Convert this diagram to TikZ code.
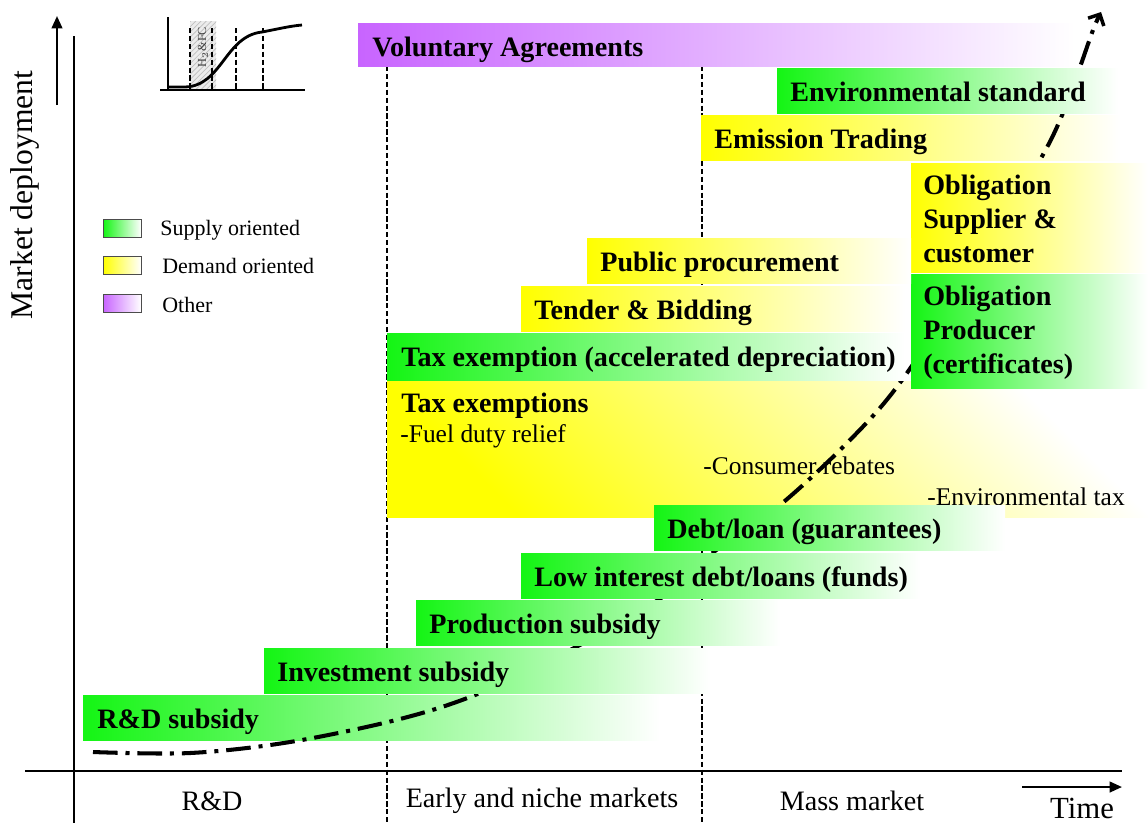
\documentclass[tikz,border=0pt]{standalone}
\usepackage{fontspec}
\setmainfont{Liberation Serif}
\usepackage{tikz}
\usetikzlibrary{arrows.meta,patterns}
\definecolor{supplygreen}{RGB}{20,245,20}
\definecolor{demandyellow}{RGB}{255,255,0}
\definecolor{otherviolet}{RGB}{200,100,255}
\tikzset{
    supply/.style   = {left color=supplygreen, right color=white},
    demand/.style   = {left color=demandyellow, right color=white},
    other/.style    = {left color=otherviolet, right color=white},
    barlabel/.style = {anchor=base west, inner sep=0pt,
        font=\fontsize{16}{19.4}\selectfont\bfseries},
    multilabel/.style = {anchor=west, inner sep=0pt, align=left,
        font=\fontsize{16}{19.4}\selectfont\bfseries},
    note/.style     = {anchor=west, inner sep=0pt,
        font=\fontsize{14.5}{17}\selectfont},
    legendbox/.style= {draw=black!70, line width=0.5pt},
    legendtext/.style = {anchor=west, inner sep=0pt,
        font=\fontsize{12.5}{15}\selectfont},
    phase/.style    = {font=\fontsize{16}{19}\selectfont},
    phaseline/.style= {line width=0.8pt, dash pattern=on 3pt off 1.5pt},
    axis/.style     = {line width=1.5pt},
    axisarrow/.style= {line width=1.3pt, -{Triangle[length=7pt,width=6pt]}},
    curve/.style    = {line width=2.3pt, dash pattern=on 14pt off 4.5pt on 2.3pt off 4.5pt,
        -{Straight Barb[length=5pt,width=10pt,line width=2pt]}}
}

\begin{document}
\begin{tikzpicture}[x=0.02cm, y=-0.02cm]
    \useasboundingbox (0,0) rectangle (1148,823);

    % phases and axes
    \draw[phaseline] (387,66) -- (387,823);
    \draw[phaseline] (702,66) -- (702,823);
    \draw[axis] (74,36) -- (74,823);
    \draw[axis] (25,771) -- (1122,771);
    \draw[axisarrow] (57,105) -- (57,16);
    \draw[axisarrow] (1022,787) -- (1122,787);
    \node[font=\fontsize{18}{21}\selectfont, rotate=90] (deploy) at (25,195) {Market deployment};
    \node[phase] (rnd) at (212,801) {R\&D};
    \node[phase] (early) at (542,801) {Early and niche markets};
    \node[phase] (mass) at (852,801) {Mass market};
    \node[font=\fontsize{17.5}{20}\selectfont, inner sep=0pt] (time) at (1082,808) {Time};

    % small S-curve
    \fill[gray!15] (190,21) rectangle (216,90);
    \fill[pattern=north east lines, pattern color=gray!50] (190,21) rectangle (216,90);
    \node[rotate=90, font=\fontsize{7}{8}\selectfont, text=black!75] (hfc) at (203,47) {H$_2$\&FC};
    \foreach \x in {190,212,236,263}
        \draw[line width=1pt, dash pattern=on 3pt off 1.5pt] (\x,28) -- (\x,90);
    \draw[line width=1.6pt] (168,90) -- (168,17);
    \draw[line width=1.6pt] (160,90) -- (305,90);
    \draw[line width=1.6pt] (168,87) -- (185,87) .. controls (222,86) and (225,36) .. (262,32)
        .. controls (278,29) and (290,26) .. (302,25);

    % legend
    \draw[legendbox, supply] (103,219) rectangle (141,237);
    \draw[legendbox, demand] (103,256) rectangle (141,274);
    \draw[legendbox, other] (103,294) rectangle (141,312);
    \node[legendtext] (legsupply) at (160,230) {Supply oriented};
    \node[legendtext] (legdemand) at (162,266) {Demand oriented};
    \node[legendtext] (legother) at (162,305) {Other};

    % bars lying under the curve
    \shade[supply] (83,695) rectangle (660,740);
    \node[barlabel] (rdsub) at (97,728) {R\&D subsidy};
    \shade[bottom color=demandyellow, middle color=demandyellow!22, top color=white, shading angle=-45]
        (387,381) rectangle (1148,517);
    \node[barlabel] (taxex) at (401,412) {Tax exemptions};
    \node[note] (fuelduty) at (400,436) {-Fuel duty relief};
    \node[note] (rebates) at (703,466) {-Consumer rebates};
    \node[note] (envtax) at (927,497) {-Environmental tax};
    \shade[demand] (701,115) rectangle (1120,160);
    \node[barlabel] (emtrade) at (714,148) {Emission Trading};

    % market deployment curve
    \draw[curve] plot[smooth, tension=0.55] coordinates {(93,752) (190,753) (290,742) (400,719)
        (480,693) (576,647) (661,598) (715,551) (780,505) (850,440) (902,380) (975,268)
        (1040,160) (1063,113) (1080,67) (1093,30) (1101,12)};

    % bars lying over the curve
    \shade[other] (358,23) rectangle (1075,66);
    \node[barlabel] (volagree) at (372,56) {Voluntary Agreements};
    \shade[supply] (777,68) rectangle (1118,113);
    \node[barlabel] (envstd) at (790,101) {Environmental standard};
    \shade[demand] (911,163) rectangle (1148,272);
    \node[multilabel] (obsupplier) at (923,219) {Obligation\\Supplier \&\\customer};
    \shade[supply] (911,274) rectangle (1148,388);
    \node[multilabel] (obproducer) at (923,333) {Obligation\\Producer\\(certificates)};
    \shade[demand] (587,238) rectangle (911,283);
    \node[barlabel] (pubproc) at (600,271) {Public procurement};
    \shade[demand] (521,286) rectangle (905,331);
    \node[barlabel] (tender) at (534,319) {Tender \& Bidding};
    \shade[supply] (387,333) rectangle (905,380);
    \node[barlabel] (taxaccel) at (401,366) {Tax exemption (accelerated depreciation)};
    \shade[supply] (654,505) rectangle (1005,550);
    \node[barlabel] (debtloan) at (667,538) {Debt/loan (guarantees)};
    \shade[supply] (521,553) rectangle (920,598);
    \node[barlabel] (lowint) at (534,586) {Low interest debt/loans (funds)};
    \shade[supply] (416,600) rectangle (780,645);
    \node[barlabel] (prodsub) at (429,633) {Production subsidy};
    \shade[supply] (264,648) rectangle (710,693);
    \node[barlabel] (invsub) at (277,681) {Investment subsidy};
\end{tikzpicture}
\end{document}
